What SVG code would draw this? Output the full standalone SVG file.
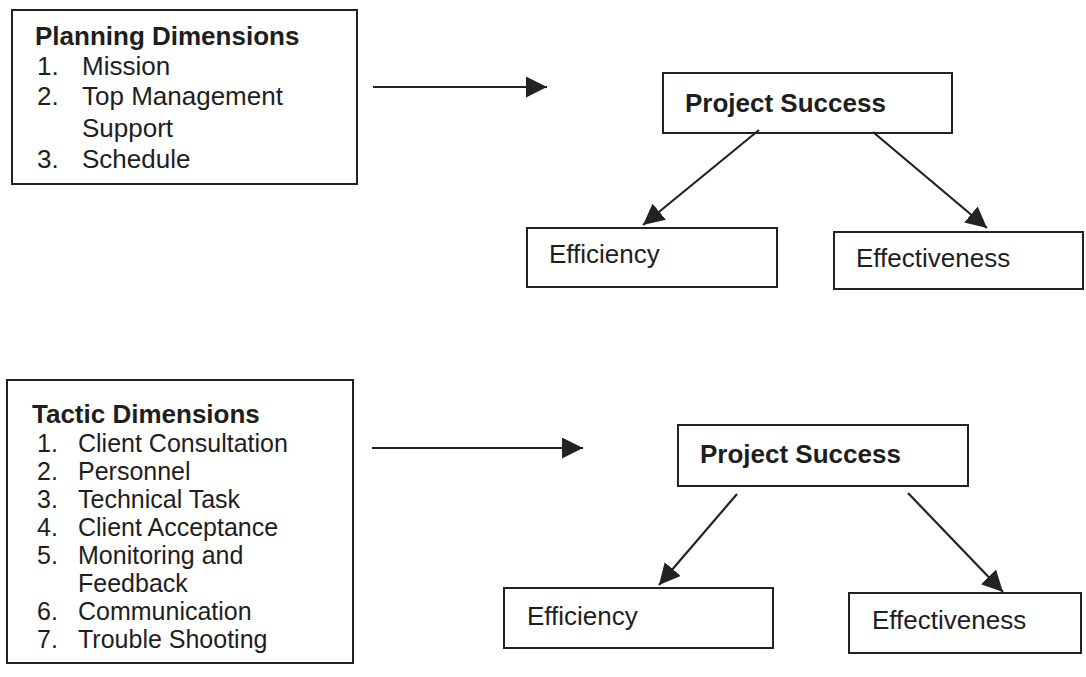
<svg xmlns="http://www.w3.org/2000/svg" width="1086" height="677" viewBox="0 0 1086 677">
<defs>
<style>
.box{fill:#fff;stroke:#222;stroke-width:2}
.t{font-family:"Liberation Sans",Arial,sans-serif;font-size:26px;fill:#1e1e1e}
.s{font-size:25px}
.b{font-weight:bold}
.c{stroke:#222;stroke-width:2.2;fill:none;marker-end:url(#ah)}
</style>
<marker id="ah" markerUnits="userSpaceOnUse" markerWidth="21" markerHeight="21" refX="21" refY="10.5" orient="auto" viewBox="0 0 21 21">
<path d="M0,0 L21,10.5 L0,21 z" fill="#222"/>
</marker>
</defs>
<rect width="1086" height="677" fill="#fff"/>

<g id="planning">
<rect class="box" x="12" y="10" width="345" height="174"/>
<text class="t b" x="35" y="45">Planning Dimensions</text>
<text class="t" x="37" y="75">1.</text><text class="t" x="82" y="75">Mission</text>
<text class="t" x="37" y="105">2.</text><text class="t" x="82" y="105">Top Management</text>
<text class="t" x="82" y="137">Support</text>
<text class="t" x="37" y="168">3.</text><text class="t" x="82" y="168">Schedule</text>
</g>

<g id="success1">
<rect class="box" x="663" y="73" width="289" height="60"/>
<text class="t b" x="685" y="112">Project Success</text>
</g>
<g id="efficiency1">
<rect class="box" x="527" y="228" width="250" height="59"/>
<text class="t" x="549" y="263">Efficiency</text>
</g>
<g id="effectiveness1">
<rect class="box" x="834" y="232" width="249" height="57"/>
<text class="t" x="856" y="267">Effectiveness</text>
</g>

<g id="tactic">
<rect class="box" x="7" y="380" width="346" height="283"/>
<text class="t b" x="32" y="423">Tactic Dimensions</text>
<text class="t s" x="37" y="452">1.</text><text class="t s" x="78" y="452">Client Consultation</text>
<text class="t s" x="37" y="480">2.</text><text class="t s" x="78" y="480">Personnel</text>
<text class="t s" x="37" y="508">3.</text><text class="t s" x="78" y="508">Technical Task</text>
<text class="t s" x="37" y="536">4.</text><text class="t s" x="78" y="536">Client Acceptance</text>
<text class="t s" x="37" y="564">5.</text><text class="t s" x="78" y="564">Monitoring and</text>
<text class="t s" x="78" y="592">Feedback</text>
<text class="t s" x="37" y="620">6.</text><text class="t s" x="78" y="620">Communication</text>
<text class="t s" x="37" y="648">7.</text><text class="t s" x="78" y="648">Trouble Shooting</text>
</g>

<g id="success2">
<rect class="box" x="678" y="425" width="290" height="61"/>
<text class="t b" x="700" y="463">Project Success</text>
</g>
<g id="efficiency2">
<rect class="box" x="504" y="588" width="269" height="60"/>
<text class="t" x="527" y="625">Efficiency</text>
</g>
<g id="effectiveness2">
<rect class="box" x="849" y="593" width="232" height="60"/>
<text class="t" x="872" y="629">Effectiveness</text>
</g>

<g id="connectors">
<line class="c" x1="373" y1="87" x2="547" y2="87"/>
<line class="c" x1="759" y1="130" x2="643" y2="225"/>
<line class="c" x1="873" y1="132" x2="987" y2="228"/>
<line class="c" x1="372" y1="448" x2="583" y2="448"/>
<line class="c" x1="737" y1="494" x2="659" y2="585"/>
<line class="c" x1="908" y1="493" x2="1003" y2="592"/>
</g>
</svg>
